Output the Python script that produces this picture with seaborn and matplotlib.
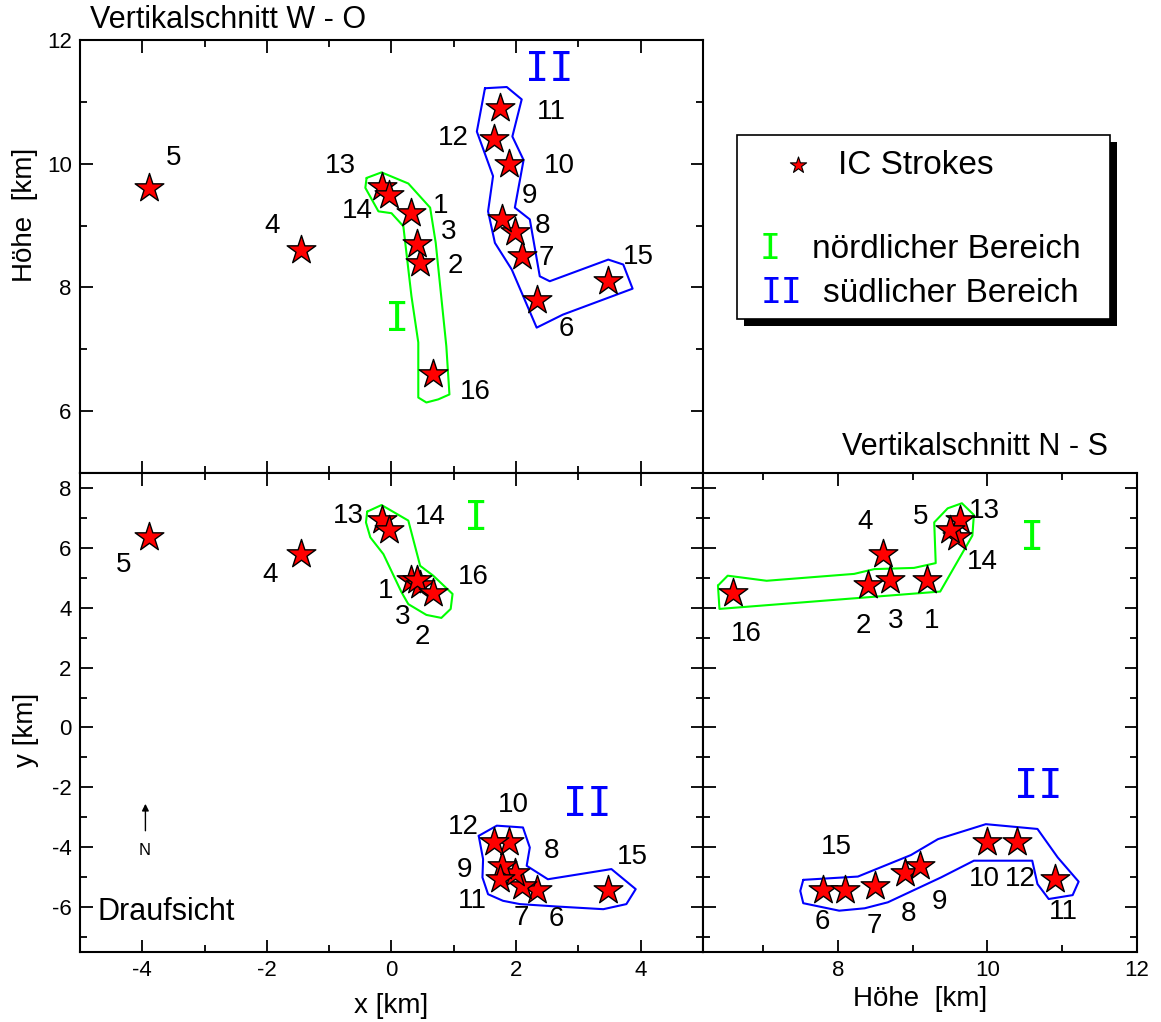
import numpy as np
import pandas as pd
import matplotlib
matplotlib.use("Agg")
import matplotlib.pyplot as plt
from matplotlib.ticker import MultipleLocator
from matplotlib.patches import Rectangle
import seaborn as sns

# ---------------------------------------------------------------
# IC stroke locations (x: W-O, y: N-S, hoehe: altitude), all in km
# ---------------------------------------------------------------
stroke_id = [1, 2, 3, 4, 5, 6, 7, 8, 9, 10, 11, 12, 13, 14, 15, 16]
stroke_x = [0.32, 0.46, 0.41, -1.45, -3.90, 2.34, 2.09, 1.99, 1.78, 1.88,
            1.74, 1.65, -0.15, -0.04, 3.48, 0.66]
stroke_y = [4.92, 4.75, 4.93, 5.80, 6.35, -5.42, -5.29, -4.87, -4.62, -3.84,
            -5.05, -3.84, 6.94, 6.60, -5.42, 4.48]
stroke_h = [9.20, 8.40, 8.70, 8.60, 9.60, 7.80, 8.50, 8.90, 9.10, 10.00,
            10.90, 10.40, 9.63, 9.50, 8.10, 6.60]

# Cluster outlines (region I = north, region II = south) per section
outline_I_xh = [(-0.40, 9.77), (-0.16, 9.86), (0.27, 9.68), (0.62, 9.29), (0.71, 8.72),
                (0.88, 7.05), (0.93, 6.27), (0.75, 6.19), (0.56, 6.14), (0.43, 6.22),
                (0.43, 7.11), (0.32, 7.86), (0.19, 8.99), (0.00, 9.20), (-0.21, 9.23),
                (-0.42, 9.61), (-0.40, 9.77)]
outline_II_xh = [(1.50, 11.22), (1.85, 11.24), (2.09, 11.04), (1.94, 10.44), (2.12, 10.06),
                 (1.98, 9.29), (2.22, 9.10), (2.38, 8.18), (2.54, 8.10), (3.48, 8.45),
                 (3.72, 8.37), (3.87, 7.98), (2.75, 7.56), (2.33, 7.35), (1.93, 8.29),
                 (1.66, 8.72), (1.55, 9.23), (1.63, 9.80), (1.37, 10.52), (1.50, 11.22)]
outline_I_xy = [(-0.39, 7.21), (-0.16, 7.43), (0.27, 6.91), (0.46, 5.40), (0.67, 5.07),
                (0.98, 4.46), (0.95, 3.96), (0.80, 3.66), (0.56, 3.76), (0.27, 4.12),
                (0.16, 4.52), (-0.13, 5.79), (-0.34, 6.35), (-0.41, 6.85), (-0.39, 7.21)]
outline_II_xy = [(1.40, -3.62), (1.69, -3.28), (2.11, -3.34), (2.22, -4.01), (2.17, -4.62),
                 (2.51, -5.07), (3.53, -4.73), (3.92, -5.40), (3.77, -5.90), (3.40, -6.07),
                 (2.65, -5.98), (2.06, -5.90), (1.79, -5.79), (1.55, -5.57), (1.46, -5.01),
                 (1.47, -4.40), (1.40, -3.62)]
outline_I_hy = [(6.40, 4.74), (6.53, 5.07), (7.05, 4.90), (8.22, 5.13), (8.49, 5.29),
                (9.02, 5.33), (9.31, 5.49), (9.29, 6.85), (9.47, 7.32), (9.66, 7.49),
                (9.82, 7.10), (9.80, 6.41), (9.37, 4.54), (6.42, 3.96), (6.40, 4.74)]
outline_II_hy = [(7.54, -5.09), (8.27, -4.98), (8.98, -4.26), (9.34, -3.73), (9.98, -3.23),
                 (10.67, -3.39), (10.94, -4.34), (11.22, -5.15), (11.14, -5.60), (10.82, -5.73),
                 (10.67, -5.23), (10.60, -4.45), (9.82, -4.45), (9.38, -5.01), (8.67, -5.84),
                 (8.36, -6.04), (8.02, -6.12), (7.54, -5.87), (7.50, -5.46), (7.54, -5.09)]

# Number label anchor points per section: {stroke id: (pos_a, pos_b)}
labels_xh = {1: (0.79, 9.32), 2: (1.02, 8.34), 3: (0.92, 8.89), 4: (-1.92, 9.0),
             5: (-3.5, 10.1), 6: (2.8, 7.32), 7: (2.49, 8.48), 8: (2.42, 9.0),
             9: (2.22, 9.48), 10: (2.7, 9.97), 11: (2.56, 10.84), 12: (0.99, 10.41),
             13: (-0.82, 9.97), 14: (-0.54, 9.24), 15: (3.97, 8.5), 16: (1.34, 6.31)}
labels_xy = {1: (-0.1, 4.56), 2: (0.5, 3.02), 3: (0.18, 3.69), 4: (-1.95, 5.09),
             5: (-4.3, 5.43), 6: (2.64, -6.4), 7: (2.09, -6.35), 8: (2.57, -4.12),
             9: (1.17, -4.75), 10: (1.95, -2.58), 11: (1.3, -5.8), 12: (1.16, -3.34),
             13: (-0.69, 7.06), 14: (0.62, 7.03), 15: (3.87, -4.33), 16: (1.32, 5.03)}
labels_hy = {1: (9.25, 3.57), 2: (8.34, 3.4), 3: (8.77, 3.57), 4: (8.36, 6.85),
             5: (9.11, 7.02), 6: (7.8, -6.51), 7: (8.49, -6.63), 8: (8.94, -6.23),
             9: (9.36, -5.84), 10: (9.96, -5.06), 11: (11.02, -6.18), 12: (10.44, -5.06),
             13: (9.96, 7.24), 14: (9.94, 5.52), 15: (7.98, -4.0), 16: (6.78, 3.12)}

# Region tags (I / II) per section
tag_xh = {"I": (0.09, 7.48), "II": (2.54, 11.52)}
tag_xy = {"I": (1.36, 6.96), "II": (3.15, -2.6)}
tag_hy = {"I": (10.6, 6.3), "II": (10.68, -1.98)}

strokes = pd.DataFrame({"id": stroke_id, "x": stroke_x, "y": stroke_y, "hoehe": stroke_h})

# ---------------------------------------------------------------
sns.set_style("white")
plt.rcParams["font.family"] = ["Liberation Sans", "DejaVu Sans"]
plt.rcParams["mathtext.default"] = "regular"
plt.rcParams["axes.unicode_minus"] = False
plt.rcParams["text.color"] = "black"
plt.rcParams["axes.labelcolor"] = "black"
plt.rcParams["xtick.color"] = "black"
plt.rcParams["ytick.color"] = "black"

GREEN = "#00ff00"
BLUE = "#0000ff"
TAG_FONT = "DejaVu Sans Mono"

W, H = 1161, 1022
fig = plt.figure(figsize=(W / 100, H / 100), dpi=100)


def fig_rect(left, top, right, bottom):
    return [left / W, 1 - bottom / H, (right - left) / W, (bottom - top) / H]


ax_xh = fig.add_axes(fig_rect(80, 40, 703, 473))
ax_xy = fig.add_axes(fig_rect(80, 473, 703, 952))
ax_hy = fig.add_axes(fig_rect(703, 473, 1137, 952))


def style_axes(ax):
    for sp in ax.spines.values():
        sp.set_visible(True)
        sp.set_color("black")
        sp.set_linewidth(1.5)
    ax.xaxis.set_major_locator(MultipleLocator(2))
    ax.xaxis.set_minor_locator(MultipleLocator(1))
    ax.yaxis.set_major_locator(MultipleLocator(2))
    ax.yaxis.set_minor_locator(MultipleLocator(1))
    ax.tick_params(which="both", direction="in", top=True, right=True,
                   bottom=True, left=True, width=1.3, colors="black",
                   labelcolor="black", labelsize=16, pad=6)
    ax.tick_params(which="major", length=9)
    ax.tick_params(which="minor", length=5)
    ax.grid(False)
    ax.set_facecolor("white")


def draw_panel(ax, col_a, col_b, outline_I, outline_II, labels, tags):
    for outline, colr in ((outline_I, GREEN), (outline_II, BLUE)):
        pa, pb = zip(*outline)
        ax.plot(pa, pb, color=colr, lw=1.5, zorder=2)
    sns.scatterplot(data=strokes, x=col_a, y=col_b, ax=ax, marker="*", s=470,
                    color="red", edgecolor="black", linewidth=1.0, zorder=3,
                    legend=False)
    for sid, (la, lb) in labels.items():
        ax.text(la, lb, str(sid), fontsize=20, ha="center", va="center",
                color="black", zorder=4)
    ax.text(*tags["I"], "I", color=GREEN, fontsize=29, family=TAG_FONT,
            ha="center", va="center")
    ax.text(*tags["II"], "II", color=BLUE, fontsize=29, family=TAG_FONT,
            ha="center", va="center")


# Vertical section W - O
style_axes(ax_xh)
draw_panel(ax_xh, "x", "hoehe", outline_I_xh, outline_II_xh, labels_xh, tag_xh)
ax_xh.set_xlim(-5, 5)
ax_xh.set_ylim(5, 12)
ax_xh.tick_params(labelbottom=False)
ax_xh.set_xlabel("")
ax_xh.set_ylabel("Höhe  [km]", fontsize=20)
ax_xh.yaxis.set_label_coords(-0.068, 0.596)

# Top view
style_axes(ax_xy)
draw_panel(ax_xy, "x", "y", outline_I_xy, outline_II_xy, labels_xy, tag_xy)
ax_xy.set_xlim(-5, 5)
ax_xy.set_ylim(-7.5, 8.5)
ax_xy.set_xlabel("x [km]", fontsize=20)
ax_xy.set_ylabel("y [km]", fontsize=20)
ax_xy.xaxis.set_label_coords(0.5, -0.085)
ax_xy.yaxis.set_label_coords(-0.066, 0.463)
ax_xy.annotate("", xy=(-3.95, -2.55), xytext=(-3.95, -3.45),
               arrowprops=dict(arrowstyle="-|>", color="black", lw=1.0,
                               mutation_scale=10, shrinkA=0, shrinkB=0))
ax_xy.text(-3.96, -4.12, "N", fontsize=12, ha="center", va="center")
ax_xy.text(-4.72, -6.18, "Draufsicht", fontsize=22, ha="left", va="center")

# Vertical section N - S
style_axes(ax_hy)
draw_panel(ax_hy, "hoehe", "y", outline_I_hy, outline_II_hy, labels_hy, tag_hy)
ax_hy.set_xlim(6.2, 12)
ax_hy.set_ylim(-7.5, 8.5)
ax_hy.tick_params(labelleft=False)
ax_hy.set_ylabel("")
ax_hy.set_xlabel("Höhe  [km]", fontsize=20)
ax_hy.xaxis.set_label_coords(0.5, -0.07)

fig.text(90 / W, 1 - 20 / H, "Vertikalschnitt W - O", fontsize=22,
         ha="left", va="center")
fig.text(842 / W, 1 - 447 / H, "Vertikalschnitt N - S", fontsize=22,
         ha="left", va="center")

# Key box with drop shadow (pixel coordinates)
key = fig.add_axes([0, 0, 1, 1], zorder=5)
key.set_xlim(0, W)
key.set_ylim(H, 0)
key.axis("off")
key.patch.set_alpha(0)
key.add_patch(Rectangle((744, 142), 373, 184, facecolor="black", edgecolor="black", lw=0))
key.add_patch(Rectangle((737, 135), 373, 184, facecolor="white", edgecolor="black", lw=1.2))
key.scatter([798], [165], marker="*", s=150, color="red", edgecolor="black", linewidths=0.8)
key.text(838, 165, "IC Strokes", fontsize=24, ha="left", va="center")
key.text(770, 249, "I", color=GREEN, fontsize=25, family=TAG_FONT, ha="center", va="center")
key.text(812, 249, "nördlicher Bereich", fontsize=24, ha="left", va="center")
key.text(782, 293, "II", color=BLUE, fontsize=25, family=TAG_FONT, ha="center", va="center")
key.text(823, 293, "südlicher Bereich", fontsize=24, ha="left", va="center")

fig.savefig("out.png", dpi=100, facecolor="white")
